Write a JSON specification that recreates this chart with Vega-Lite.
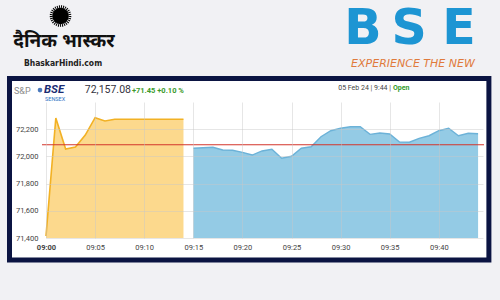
{
  "$schema": "https://vega.github.io/schema/vega-lite/v6.json",
  "width": 437,
  "height": 136,
  "autosize": {"type": "none"},
  "padding": {"left": 46, "top": 102, "right": 17, "bottom": 62},
  "background": "#f1f1f4",
  "config": {
    "view": {"stroke": null},
    "font": "Roboto",
    "axis": {
      "domain": false,
      "ticks": false,
      "grid": true,
      "gridColor": "#c8c8c8",
      "gridOpacity": 0.45,
      "gridWidth": 1,
      "labelFont": "Roboto",
      "labelFontSize": 7.5,
      "labelColor": "#444444",
      "labelOverlap": false
    }
  },
  "datasets": {
    "pre": [
      {"min": 0, "v": 71415},
      {"min": 1, "v": 72282},
      {"min": 2, "v": 72054},
      {"min": 3, "v": 72069},
      {"min": 4, "v": 72157},
      {"min": 5, "v": 72285},
      {"min": 6, "v": 72260},
      {"min": 7, "v": 72273},
      {"min": 8, "v": 72273},
      {"min": 9, "v": 72273},
      {"min": 10, "v": 72273},
      {"min": 11, "v": 72273},
      {"min": 12, "v": 72273},
      {"min": 13, "v": 72273},
      {"min": 14, "v": 72273}
    ],
    "open": [
      {"min": 15, "v": 72060},
      {"min": 16, "v": 72064},
      {"min": 17, "v": 72067},
      {"min": 18, "v": 72047},
      {"min": 19, "v": 72045},
      {"min": 20, "v": 72030},
      {"min": 21, "v": 72010},
      {"min": 22, "v": 72040},
      {"min": 23, "v": 72052},
      {"min": 24, "v": 71986},
      {"min": 25, "v": 72001},
      {"min": 26, "v": 72060},
      {"min": 27, "v": 72071},
      {"min": 28, "v": 72145},
      {"min": 29, "v": 72189},
      {"min": 30, "v": 72207},
      {"min": 31, "v": 72218},
      {"min": 32, "v": 72218},
      {"min": 33, "v": 72162},
      {"min": 34, "v": 72172},
      {"min": 35, "v": 72165},
      {"min": 36, "v": 72106},
      {"min": 37, "v": 72104},
      {"min": 38, "v": 72133},
      {"min": 39, "v": 72152},
      {"min": 40, "v": 72189},
      {"min": 41, "v": 72207},
      {"min": 42, "v": 72152},
      {"min": 43, "v": 72170},
      {"min": 44, "v": 72167}
    ],
    "one": [{}]
  },
  "layer": [
    {
      "data": {"name": "one"},
      "mark": {"type": "rect", "fill": "#ffffff", "stroke": "#0b1442", "strokeWidth": 5},
      "encoding": {
        "x": {
          "datum": -3.717, "type": "quantitative", "title": null,
          "scale": {"domain": [0, 44.5], "zero": false, "nice": false},
          "axis": {
            "zindex": 1,
            "values": [0, 5, 10, 15, 20, 25, 30, 35, 40],
            "tickCount": 20,
            "labelExpr": "'09:' + (datum.value < 10 ? '0' : '') + datum.value",
            "labelFlush": false,
            "labelOverlap": false,
            "labelPadding": 5,
            "labelFontWeight": {"condition": {"test": "datum.value == 0", "value": "bold"}, "value": "normal"}
          }
        },
        "x2": {"datum": 45.1},
        "y": {
          "datum": 72572.8, "type": "quantitative", "title": null,
          "scale": {"domain": [71400, 72400], "zero": false, "nice": false},
          "axis": {
            "zindex": 1,
            "values": [71400, 71600, 71800, 72000, 72200],
            "tickCount": 10,
            "labelExpr": "format(datum.value, ',d')",
            "labelOverlap": false,
            "labelPadding": 8
          }
        },
        "y2": {"datum": 71238}
      }
    },
    {
      "data": {"name": "pre"},
      "mark": {"type": "area", "fill": "#fcd98d", "fillOpacity": 1, "interpolate": "linear", "line": {"color": "#f2b124", "strokeWidth": 1.6}},
      "encoding": {
        "x": {"field": "min", "type": "quantitative", "title": null},
        "y": {"field": "v", "type": "quantitative", "title": null},
        "y2": {"datum": 71400}
      }
    },
    {
      "data": {"name": "open"},
      "mark": {"type": "area", "fill": "#94cbe5", "fillOpacity": 1, "interpolate": "linear", "line": {"color": "#6cb2d8", "strokeWidth": 1.4}},
      "encoding": {
        "x": {"field": "min", "type": "quantitative", "title": null},
        "y": {"field": "v", "type": "quantitative", "title": null},
        "y2": {"datum": 71400}
      }
    },
    {
      "data": {"name": "one"},
      "mark": {"type": "rule", "color": "#d3342b", "strokeWidth": 1.2},
      "encoding": {
        "x": {"datum": -0.41, "type": "quantitative"},
        "x2": {"datum": 44.6},
        "y": {"datum": 72085.63, "type": "quantitative"}
      }
    },
    {
      "data": {"name": "one"},
      "mark": {"type": "point", "shape": "circle", "filled": false, "stroke": "#000000", "strokeWidth": 3, "strokeDash": [1, 1], "size": 346, "opacity": 1},
      "encoding": {
        "x": {"datum": 1.48, "type": "quantitative"},
        "y": {"datum": 73032, "type": "quantitative"}
      }
    },
    {
      "data": {"name": "one"},
      "mark": {"type": "point", "shape": "circle", "filled": true, "color": "#000000", "size": 270, "opacity": 1},
      "encoding": {
        "x": {"datum": 1.48, "type": "quantitative"},
        "y": {"datum": 73032, "type": "quantitative"}
      }
    },
    {
      "data": {"name": "one"},
      "mark": {"type": "text", "text": "दैनिक भास्कर", "font": "Noto Sans Devanagari, Noto Sans, sans-serif", "fontSize": 19, "fontWeight": "bold", "color": "#111111", "align": "center", "baseline": "middle"},
      "encoding": {
        "x": {"datum": 1.833, "type": "quantitative"},
        "y": {"datum": 72848, "type": "quantitative"}
      }
    },
    {
      "data": {"name": "one"},
      "mark": {"type": "text", "text": "BhaskarHindi.com", "font": "DejaVu Sans Condensed, Roboto, sans-serif", "fontSize": 8.5, "fontWeight": "bold", "color": "#222222", "align": "center", "baseline": "middle"},
      "encoding": {
        "x": {"datum": 1.73, "type": "quantitative"},
        "y": {"datum": 72690, "type": "quantitative"}
      }
    },
    {
      "data": {"name": "one"},
      "mark": {"type": "text", "text": "B", "font": "DejaVu Sans", "fontSize": 49, "fontWeight": "bold", "color": "#1d95d3", "align": "center", "baseline": "middle"},
      "encoding": {
        "x": {"datum": 32.28, "type": "quantitative"},
        "y": {"datum": 72940, "type": "quantitative"}
      }
    },
    {
      "data": {"name": "one"},
      "mark": {"type": "text", "text": "S", "font": "DejaVu Sans", "fontSize": 49, "fontWeight": "bold", "color": "#1d95d3", "align": "center", "baseline": "middle"},
      "encoding": {
        "x": {"datum": 36.97, "type": "quantitative"},
        "y": {"datum": 72940, "type": "quantitative"}
      }
    },
    {
      "data": {"name": "one"},
      "mark": {"type": "text", "text": "E", "font": "DejaVu Sans", "fontSize": 49, "fontWeight": "bold", "color": "#1d95d3", "align": "center", "baseline": "middle"},
      "encoding": {
        "x": {"datum": 42.06, "type": "quantitative"},
        "y": {"datum": 72940, "type": "quantitative"}
      }
    },
    {
      "data": {"name": "one"},
      "mark": {"type": "text", "text": "EXPERIENCE THE NEW", "font": "DejaVu Sans", "fontSize": 11, "fontStyle": "italic", "color": "#e07a3c", "align": "center", "baseline": "middle"},
      "encoding": {
        "x": {"datum": 37.37, "type": "quantitative"},
        "y": {"datum": 72679.4, "type": "quantitative"}
      }
    },
    {
      "data": {"name": "one"},
      "mark": {"type": "text", "text": "S&P", "font": "Roboto", "fontSize": 9, "color": "#8a8a8a", "align": "left", "baseline": "middle"},
      "encoding": {
        "x": {"datum": -3.26, "type": "quantitative"},
        "y": {"datum": 72480.9, "type": "quantitative"}
      }
    },
    {
      "data": {"name": "one"},
      "mark": {"type": "point", "shape": "circle", "filled": true, "color": "#4a79bd", "size": 22, "opacity": 1},
      "encoding": {
        "x": {"datum": -0.61, "type": "quantitative"},
        "y": {"datum": 72488, "type": "quantitative"}
      }
    },
    {
      "data": {"name": "one"},
      "mark": {"type": "text", "text": "BSE", "font": "Roboto", "fontSize": 11.5, "fontWeight": "bold", "fontStyle": "italic", "color": "#1b2c72", "align": "left", "baseline": "middle"},
      "encoding": {
        "x": {"datum": -0.204, "type": "quantitative"},
        "y": {"datum": 72484.6, "type": "quantitative"}
      }
    },
    {
      "data": {"name": "one"},
      "mark": {"type": "text", "text": "SENSEX", "font": "Roboto", "fontSize": 5.5, "color": "#2e73c4", "align": "left", "baseline": "middle"},
      "encoding": {
        "x": {"datum": -0.102, "type": "quantitative"},
        "y": {"datum": 72422, "type": "quantitative"}
      }
    },
    {
      "data": {"name": "one"},
      "mark": {"type": "text", "text": "72,157.08", "font": "Roboto", "fontSize": 10.5, "color": "#333340", "align": "left", "baseline": "middle"},
      "encoding": {
        "x": {"datum": 3.95, "type": "quantitative"},
        "y": {"datum": 72488.2, "type": "quantitative"}
      }
    },
    {
      "data": {"name": "one"},
      "mark": {"type": "text", "text": "+71.45 +0.10 %", "font": "Roboto", "fontSize": 7.5, "fontWeight": "bold", "color": "#3a9a2a", "align": "left", "baseline": "middle"},
      "encoding": {
        "x": {"datum": 8.75, "type": "quantitative"},
        "y": {"datum": 72480.9, "type": "quantitative"}
      }
    },
    {
      "data": {"name": "one"},
      "mark": {"type": "text", "text": "05 Feb 24 | 9:44 |", "font": "Roboto", "fontSize": 7, "color": "#444444", "align": "right", "baseline": "middle"},
      "encoding": {
        "x": {"datum": 35.13, "type": "quantitative"},
        "y": {"datum": 72502.9, "type": "quantitative"}
      }
    },
    {
      "data": {"name": "one"},
      "mark": {"type": "text", "text": "Open", "font": "Roboto", "fontSize": 7, "fontWeight": "bold", "color": "#2f9a2a", "align": "left", "baseline": "middle"},
      "encoding": {
        "x": {"datum": 35.34, "type": "quantitative"},
        "y": {"datum": 72502.9, "type": "quantitative"}
      }
    }
  ]
}
